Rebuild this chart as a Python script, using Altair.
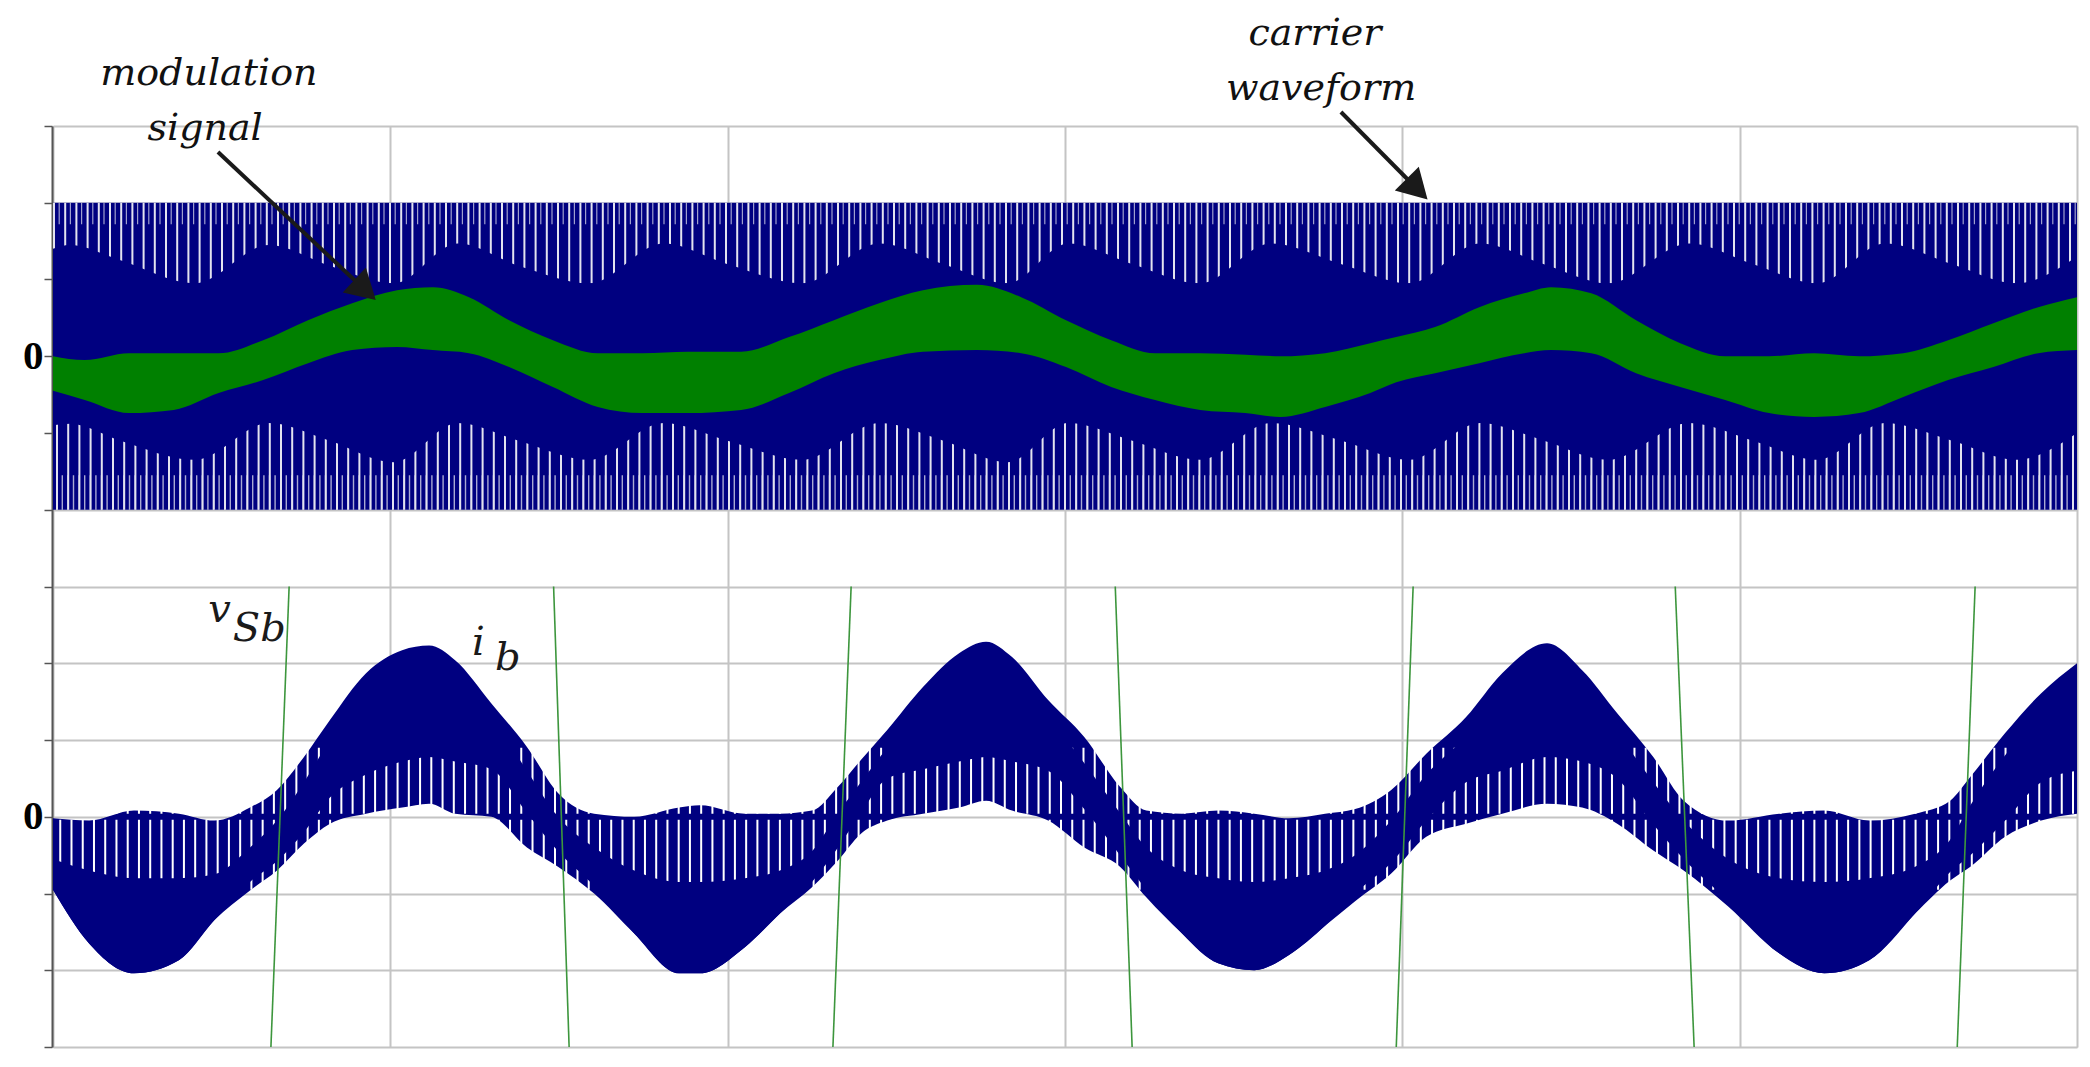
import altair as alt
import pandas as pd

# ---------------- frame (time in ms, y in grid divisions) ----------------
x_grid = [0, 10, 20, 30, 40, 50, 60]
y_ticks = list(range(-9, 4))
BOTTOM_ZERO = -6          # zero line of the lower trace sits 6 divisions below the upper one

# ---------------- upper trace: carrier waveform ----------------
carrier_t = [0, 60]
carrier_hi = [2.0, 2.0]
carrier_lo = [-2.0, -2.0]

# edges of the solid part of the carrier band (white gaps stop here)
core_t = [0.0, 0.5, 2.0, 4.2, 6.4, 8.2, 10.1, 12.0, 13.8, 15.9, 18.1, 20.0, 22.2, 24.5, 26.4,
          28.3, 30.1, 32.0, 34.0, 36.1, 38.2, 40.2, 42.3, 44.2, 46.1, 48.5, 50.4, 52.3, 54.3,
          56.3, 58.2, 60.0]
core_top = [1.40, 1.45, 1.25, 0.95, 1.45, 1.18, 0.95, 1.47, 1.18, 0.95, 1.47, 1.20, 0.95, 1.47,
            1.20, 0.95, 1.47, 1.20, 0.95, 1.47, 1.20, 0.95, 1.47, 1.20, 0.95, 1.47, 1.20, 0.95,
            1.47, 1.20, 0.95, 1.30]
core_bot = [-0.90, -0.88, -1.10, -1.35, -0.87, -1.10, -1.38, -0.87, -1.10, -1.35, -0.87, -1.10,
            -1.35, -0.87, -1.10, -1.38, -0.87, -1.10, -1.35, -0.87, -1.10, -1.35, -0.87, -1.10,
            -1.35, -0.87, -1.10, -1.35, -0.87, -1.10, -1.35, -1.00]

# zones of the carrier band where the white gaps show (upper, lower)
gap_zone_upper = [2.0, 2.0, -0.87, -1.55]
gap_zone_lower = [0.95, 1.72, -2.0, -2.0]

# ---------------- upper trace: modulation signal (green band) ----------------
mod_t = [0.0, 0.94, 2.25, 3.58, 4.91, 6.23, 7.56, 8.87, 10.20, 11.26, 12.33, 13.52, 14.82, 16.15,
         17.48, 18.82, 20.40, 21.82, 23.15, 24.49, 25.79, 27.39, 28.70, 30.03, 31.37, 32.67,
         34.01, 35.34, 36.38, 37.71, 39.05, 39.82, 40.97, 42.28, 43.61, 44.41, 45.60, 46.93,
         48.24, 49.57, 50.87, 52.21, 53.54, 54.85, 56.18, 57.52, 58.85, 60.0]
mod_hi = [0.00, -0.05, 0.04, 0.04, 0.04, 0.21, 0.47, 0.69, 0.86, 0.90, 0.77, 0.47, 0.21, 0.04,
          0.04, 0.06, 0.06, 0.25, 0.47, 0.69, 0.86, 0.93, 0.77, 0.47, 0.21, 0.04, 0.04, 0.02,
          0.00, 0.04, 0.17, 0.25, 0.38, 0.64, 0.82, 0.90, 0.82, 0.47, 0.17, 0.00, 0.00, 0.04,
          0.00, 0.04, 0.21, 0.43, 0.64, 0.77]
mod_lo = [-0.45, -0.57, -0.74, -0.70, -0.48, -0.31, -0.09, 0.08, 0.12, 0.08, 0.04, -0.14, -0.40,
          -0.66, -0.74, -0.74, -0.70, -0.48, -0.22, -0.05, 0.06, 0.08, 0.04, -0.14, -0.40, -0.57,
          -0.70, -0.74, -0.79, -0.66, -0.48, -0.34, -0.22, -0.09, 0.04, 0.08, 0.04, -0.22, -0.40,
          -0.57, -0.74, -0.79, -0.74, -0.53, -0.31, -0.14, 0.04, 0.08]

# ---------------- lower trace: current i_b (band with ripple) ----------------
cur_t = [0.0, 1.07, 2.40, 3.73, 4.78, 5.84, 6.64, 7.44, 8.21, 9.28, 10.35, 11.15, 11.92, 12.99,
         14.05, 14.97, 16.04, 17.23, 18.56, 19.18, 20.51, 21.55, 22.50, 23.27, 23.95, 24.73,
         25.79, 26.86, 27.66, 28.43, 29.50, 30.57, 31.63, 32.41, 33.47, 34.54, 35.61, 36.64,
         37.71, 38.60, 39.67, 40.71, 41.89, 42.96, 44.29, 45.33, 46.37, 47.44, 48.34, 49.66,
         51.17, 52.51, 53.84, 55.20, 56.24, 56.84, 57.87, 58.94, 60.0]
cur_hi = [-0.02, -0.05, 0.08, 0.04, -0.05, 0.12, 0.35, 0.78, 1.26, 1.87, 2.17, 2.23, 2.04, 1.48,
          0.91, 0.31, 0.04, 0.00, 0.12, 0.15, 0.04, 0.04, 0.08, 0.39, 0.74, 1.13, 1.69, 2.13,
          2.28, 2.08, 1.52, 1.04, 0.39, 0.08, 0.04, 0.08, 0.04, -0.02, 0.04, 0.10, 0.35, 0.82,
          1.30, 1.87, 2.26, 1.91, 1.35, 0.78, 0.21, -0.05, 0.04, 0.08, -0.05, 0.04, 0.21, 0.52,
          1.09, 1.61, 2.00]
cur_lo = [-0.95, -1.65, -2.04, -1.87, -1.35, -0.96, -0.70, -0.35, -0.09, 0.04, 0.12, 0.17, 0.04,
          0.00, -0.40, -0.65, -1.00, -1.52, -2.04, -2.04, -1.70, -1.26, -0.92, -0.57, -0.22,
          -0.05, 0.04, 0.12, 0.21, 0.08, -0.05, -0.40, -0.65, -1.05, -1.52, -1.91, -2.00, -1.80,
          -1.42, -1.10, -0.74, -0.26, -0.09, 0.04, 0.17, 0.12, -0.09, -0.44, -0.70, -1.17,
          -1.78, -2.04, -1.87, -1.26, -0.83, -0.65, -0.26, -0.05, 0.04]
# solid core of the current band (outside it the ripple leaves white gaps)
cur_core_hi = [-0.55, -0.70, -0.80, -0.80, -0.75, -0.40, -0.05, 0.45, 1.00, 1.65, 1.95, 2.00,
               1.85, 1.30, 0.60, 0.00, -0.40, -0.70, -0.85, -0.85, -0.80, -0.70, -0.45, 0.05,
               0.45, 0.90, 1.45, 1.90, 2.05, 1.85, 1.30, 0.70, 0.05, -0.40, -0.70, -0.80, -0.85,
               -0.80, -0.70, -0.50, -0.05, 0.55, 1.05, 1.65, 2.00, 1.70, 1.10, 0.45, -0.05, -0.55,
               -0.80, -0.85, -0.80, -0.65, -0.30, 0.15, 0.80, 1.35, 1.75]
cur_core_lo = [-0.95, -1.65, -2.04, -1.87, -1.35, -0.85, -0.58, -0.20, 0.25, 0.55, 0.72, 0.78,
               0.72, 0.62, 0.05, -0.45, -0.90, -1.52, -2.04, -2.04, -1.70, -1.26, -0.85, -0.40,
               0.05, 0.50, 0.62, 0.72, 0.78, 0.72, 0.60, 0.10, -0.50, -0.95, -1.52, -1.91, -2.00,
               -1.80, -1.42, -1.00, -0.60, -0.05, 0.45, 0.60, 0.78, 0.72, 0.50, -0.10, -0.55,
               -1.10, -1.78, -2.04, -1.87, -1.26, -0.72, -0.50, -0.05, 0.45, 0.60]
# level ranges of the lower trace where the ripple gaps appear (upper, lower)
cur_gap_upper = [0.90, -0.04]
cur_gap_lower = [0.04, -0.95]

# ---------------- lower trace: supply voltage v_Sb (clipped, steep segments) ----------------
vsb_t_bottom = [6.46, 15.30, 23.12, 31.99, 39.82, 48.65, 56.45]
vsb_t_top = [7.00, 14.84, 23.66, 31.49, 40.32, 48.09, 56.98]
panel_bottom_top = [-9, -3]

# ---------------- annotations ----------------
ann_text = ["modulation", "signal", "carrier", "waveform"]
ann_t = [4.62, 4.51, 37.41, 37.59]
ann_y = [3.534, 2.818, 4.055, 3.339]

lbl_text = ["v", "Sb", "i", "b"]
lbl_t = [4.60, 5.33, 12.42, 13.10]
lbl_y = [-3.463, -3.710, -3.893, -4.088]

arrow_tail_t = [4.89, 38.18]
arrow_tail_y = [2.661, 3.182]
arrow_head_t = [9.25, 40.44]
arrow_head_y = [0.863, 2.179]
arrow_angle = [133, 135]

# ---------------- chart ----------------
W, H = 2024, 921
PX = H / 12.0
DASH_P = W / 60.0 * 10 / 30      # 30 ripple gaps per grid division
NAVY = "#000080"
GAP = "#e2e2ef"

x_scale = alt.Scale(domain=[0, 60], nice=False, zero=False)
y_scale = alt.Scale(domain=[-9, 3], nice=False, zero=False)
x_axis = alt.Axis(values=x_grid, grid=True, labels=False, ticks=False, domain=False, title=None,
                  gridColor="#c4c4c4", gridWidth=2)
y_axis = alt.Axis(values=y_ticks, grid=True, gridColor="#c4c4c4", gridWidth=2, title=None,
                  labelExpr="(datum.value == 0 || datum.value == -6) ? '0' : ''",
                  labelFont="Liberation Serif", labelFontWeight="bold", labelFontSize=41,
                  labelColor="#000000", labelPadding=1, tickSize=8, tickColor="#555555",
                  tickWidth=1.5, domainColor="#555555", domainWidth=2, offset=1)


def X(f):
    return alt.X(f, type="quantitative", scale=x_scale, axis=x_axis)


def Y(f):
    return alt.Y(f, type="quantitative", scale=y_scale, axis=y_axis)


layers = []

# carrier band
carrier_df = pd.DataFrame({"t": carrier_t, "hi": carrier_hi, "lo": carrier_lo})
layers.append(alt.Chart(carrier_df).mark_area(color=NAVY, opacity=1)
              .encode(x=X("t"), y=Y("hi"), y2="lo"))

# white gaps of the carrier band
gap_styles = [
    dict(strokeDash=[2, 9.2], strokeDashOffset=0, opacity=1.0),
    dict(strokeDash=[1.2, 10.0], strokeDashOffset=-5.6, opacity=0.7),
    dict(strokeDash=[2, 9.2], strokeDashOffset=-3, opacity=1.0),
    dict(strokeDash=[1.4, 4.2], strokeDashOffset=-8.6, opacity=0.75),
]
for up, lo, st in zip(gap_zone_upper, gap_zone_lower, gap_styles):
    zdf = pd.DataFrame({"t": [0, 60], "c": [(up + lo) / 2.0] * 2})
    layers.append(alt.Chart(zdf).mark_line(color=GAP, strokeWidth=(up - lo) * PX,
                                           strokeCap="butt", **st)
                  .encode(x=X("t"), y=Y("c")))

# solid core of the carrier band
core_df = pd.DataFrame({"t": core_t, "top": core_top, "bot": core_bot})
layers.append(alt.Chart(core_df).mark_area(color=NAVY, opacity=1, interpolate="monotone")
              .encode(x=X("t"), y=Y("top"), y2="bot"))

# modulation signal
mod_df = pd.DataFrame({"t": mod_t, "hi": mod_hi, "lo": mod_lo})
layers.append(alt.Chart(mod_df).mark_area(color="#008000", opacity=1, interpolate="monotone")
              .encode(x=X("t"), y=Y("hi"), y2="lo"))

# current band
cur_df = pd.DataFrame({"t": cur_t, "hi": cur_hi, "lo": cur_lo,
                       "chi": cur_core_hi, "clo": cur_core_lo})
cur_base = alt.Chart(cur_df).transform_calculate(
    hi_a=f"datum.hi + ({BOTTOM_ZERO})", lo_a=f"datum.lo + ({BOTTOM_ZERO})",
    chi_a=f"datum.chi + ({BOTTOM_ZERO})", clo_a=f"datum.clo + ({BOTTOM_ZERO})",
)
layers.append(cur_base.mark_area(color=NAVY, opacity=1, interpolate="monotone")
              .encode(x=X("t"), y=Y("hi_a:Q"), y2="lo_a:Q"))
for up, lo in zip(cur_gap_upper, cur_gap_lower):
    gz_df = pd.DataFrame({"t": [0, 60], "c": [(up + lo) / 2.0 + BOTTOM_ZERO] * 2})
    layers.append(alt.Chart(gz_df).mark_line(color="#ffffff", strokeWidth=(up - lo) * PX,
                                             strokeCap="butt", strokeDash=[2, DASH_P - 2],
                                             strokeDashOffset=5)
                  .encode(x=X("t"), y=Y("c")))
layers.append(cur_base.mark_area(color=NAVY, opacity=1, interpolate="monotone")
              .encode(x=X("t"), y=Y("chi_a:Q"), y2="clo_a:Q"))

# v_Sb segments
vsb_df = pd.DataFrame({"tb": vsb_t_bottom, "tt": vsb_t_top,
                       "yb": [panel_bottom_top[0]] * len(vsb_t_bottom),
                       "yt": [panel_bottom_top[1]] * len(vsb_t_bottom)})
layers.append(alt.Chart(vsb_df).mark_rule(color="#3d963d", strokeWidth=1.6)
              .encode(x=X("tb"), x2="tt", y=Y("yb"), y2="yt"))

# annotation texts
ann_df = pd.DataFrame({"t": ann_t, "y": ann_y, "txt": ann_text})
layers.append(alt.Chart(ann_df).mark_text(font="DejaVu Serif", fontStyle="italic",
                                          fontSize=38, align="center", baseline="alphabetic",
                                          color="#111111")
              .encode(x=X("t"), y=Y("y"), text="txt"))

lbl_df = pd.DataFrame({"t": lbl_t, "y": lbl_y, "txt": lbl_text})
layers.append(alt.Chart(lbl_df).mark_text(font="DejaVu Serif", fontStyle="italic",
                                          fontSize=40, align="left", baseline="alphabetic",
                                          color="#1a1a1a")
              .encode(x=X("t"), y=Y("y"), text="txt"))

# arrows
arr_df = pd.DataFrame({"t0": arrow_tail_t, "y0": arrow_tail_y, "t1": arrow_head_t,
                       "y1": arrow_head_y, "ang": arrow_angle})
layers.append(alt.Chart(arr_df).mark_rule(color="#1a1a1a", strokeWidth=4)
              .encode(x=X("t0"), x2="t1", y=Y("y0"), y2="y1"))
layers.append(alt.Chart(arr_df).mark_point(shape="triangle-up", filled=True, size=1150,
                                           color="#1a1a1a", opacity=1, strokeWidth=0)
              .encode(x=X("t1"), y=Y("y1"), angle=alt.Angle("ang", scale=None)))

chart = alt.layer(*layers).properties(
    width=W, height=H,
    autosize=alt.AutoSizeParams(type="none"),
    padding={"left": 45, "top": 118, "right": 5, "bottom": 12},
).configure_view(stroke=None).configure(background="white")

chart.save("out.html", embed_options={"renderer": "svg", "actions": False})
